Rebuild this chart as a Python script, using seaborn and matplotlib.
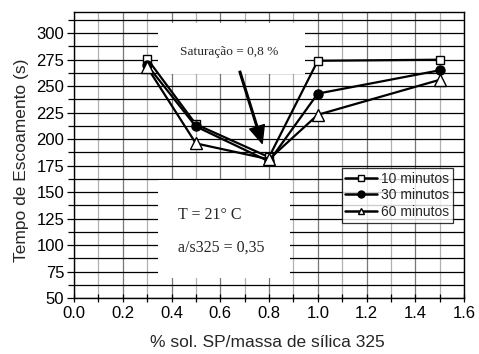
import numpy as np
import pandas as pd
import matplotlib
matplotlib.use('Agg')
import matplotlib.pyplot as plt
from matplotlib.patches import Rectangle
from matplotlib.ticker import MultipleLocator
import seaborn as sns

# dados
sp_pct = [0.3, 0.5, 0.8, 1.0, 1.5]
t10 = [276, 214, 183, 274, 275]
t30 = [270, 212, 179, 243, 265]
t60 = [268, 196, 181, 223, 256]
legendas = ['10 minutos', '30 minutos', '60 minutos']

sns.set_theme(style='white')
plt.rcParams['font.family'] = ['Liberation Sans', 'DejaVu Sans']

fig = plt.figure(figsize=(4.79, 3.54), dpi=100)
ax = fig.add_axes([0.1545, 0.158, 0.8142, 0.808])

estilos = [
    dict(marker='s', markerfacecolor='white', markeredgecolor='black', markersize=6),
    dict(marker='o', markerfacecolor='black', markeredgecolor='black', markersize=6.5),
    dict(marker='^', markerfacecolor='white', markeredgecolor='black', markersize=8),
]
for serie, nome, est in zip([t10, t30, t60], legendas, estilos):
    sns.lineplot(x=sp_pct, y=serie, ax=ax, color='black', linewidth=1.6,
                 label=nome, markeredgewidth=1.0, zorder=3, **est)

ax.set_xlim(0, 1.6)
ax.set_ylim(50, 320)
ax.xaxis.set_major_locator(MultipleLocator(0.2))
ax.xaxis.set_minor_locator(MultipleLocator(0.1))
ax.yaxis.set_minor_locator(MultipleLocator(12.5))
ax.set_yticks(np.arange(50, 301, 25))
ax.xaxis.set_major_formatter(matplotlib.ticker.FormatStrFormatter('%.1f'))

ax.set_axisbelow(True)
ax.grid(True, which='major', axis='x', color='#777777', linewidth=0.9)
ax.grid(True, which='minor', axis='x', color='#b0b0b0', linewidth=0.9)
ax.grid(True, which='both', axis='y', color='black', linewidth=0.9)

ax.tick_params(axis='x', which='both', direction='inout', length=6, width=0.9,
               colors='black', labelsize=12, bottom=True, pad=3)
ax.tick_params(axis='y', which='major', direction='out', length=5, width=0.9,
               colors='black', labelsize=12, left=True, pad=2)
ax.tick_params(axis='y', which='minor', direction='out', length=4, width=0.9,
               colors='black', left=True)
for s in ax.spines.values():
    s.set_color('black')
    s.set_linewidth(1.0)

ax.set_xlabel('% sol. SP/massa de sílica 325', fontsize=12.5)
ax.set_ylabel('Tempo de Escoamento (s)', fontsize=12.5)
ax.xaxis.set_label_coords(0.497, -0.128)
ax.yaxis.set_label_coords(-0.115, 0.48)

# caixas brancas sobre a grade
ax.add_patch(Rectangle((0.345, 261.6), 0.602, 48.1, facecolor='white',
                       edgecolor='none', zorder=1))
ax.add_patch(Rectangle((0.345, 68.9), 0.541, 92.5, facecolor='white',
                       edgecolor='none', zorder=1))

serif = ['Liberation Serif', 'DejaVu Serif']
ax.text(0.636, 282, 'Saturação = 0,8 %', family=serif, fontsize=9.6,
        ha='center', va='center', zorder=4)
ax.text(0.427, 128.4, 'T = 21° C', family=serif, fontsize=11.5,
        ha='left', va='center', zorder=4)
ax.text(0.427, 97.2, 'a/s325 = 0,35', family=serif, fontsize=11.5,
        ha='left', va='center', zorder=4)
ax.annotate('', xy=(0.772, 196), xytext=(0.68, 264),
            arrowprops=dict(facecolor='black', edgecolor='black', width=1.2,
                            headwidth=11, headlength=12.5, shrink=0),
            zorder=4)

leg = ax.legend(loc='upper right', bbox_to_anchor=(0.972, 0.4545),
                fontsize=10, frameon=True, fancybox=False, borderaxespad=0,
                handlelength=2.3, handletextpad=0.3, borderpad=0.25,
                labelspacing=0.2)
leg.get_frame().set_edgecolor('black')
leg.get_frame().set_linewidth(0.9)
leg.set_zorder(5)
for h in leg.legend_handles:
    h.set_linewidth(1.8)
    h.set_markersize(5)

fig.savefig('out.png', dpi=100)
